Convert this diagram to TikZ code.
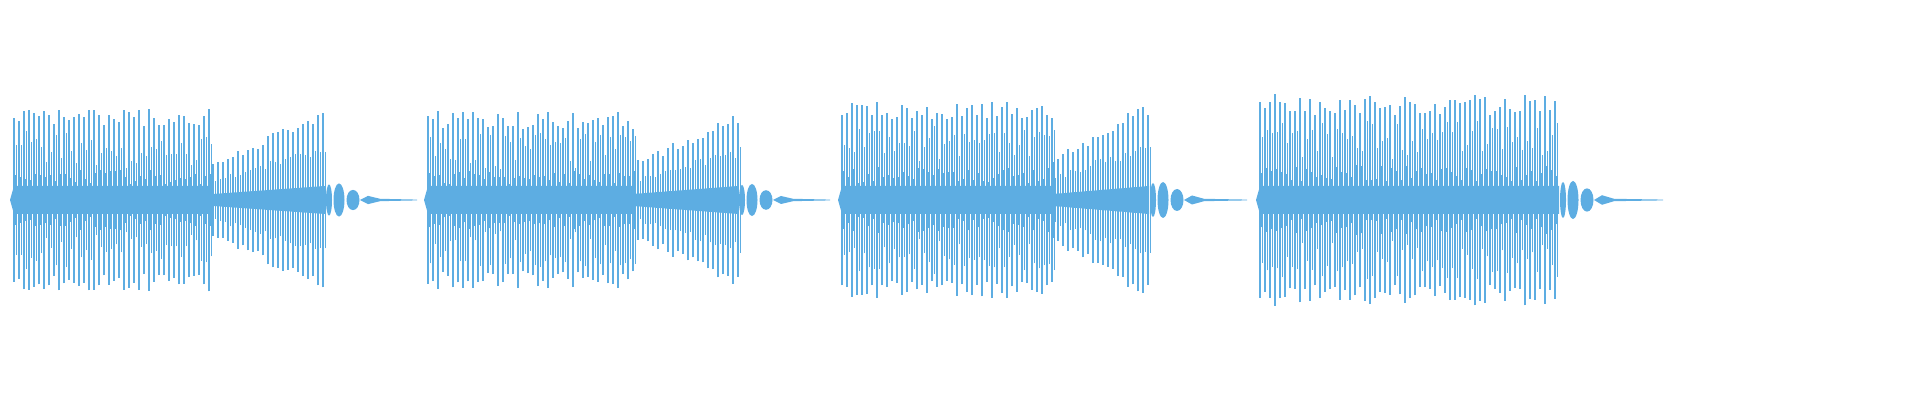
\documentclass[tikz,border=0pt]{standalone}
\definecolor{wav}{HTML}{5DADE2}
\newcommand\wseg[5]{%
 \fill[wav] (#1,0) -- (#1+4,-14) -- (#2,-14) -- (#2,14) -- (#1+4,14) -- cycle;
 \pgfmathtruncatemacro\nA{(#2-#1-4)/5}
 \foreach \i in {0,...,\nA}{
  \pgfmathsetmacro\xx{#1+4+5*\i}
  \pgfmathsetmacro\aa{#5*(0.9+0.1*rand)}
  \pgfmathsetmacro\bb{#5*(0.55+0.2*rand)}
  \pgfmathsetmacro\cc{#5*(0.25+0.08*rand)}
  \draw[wavl] (\xx,-\aa) -- (\xx,\aa);
  \draw[wavl] (\xx+2.5,-\bb) -- (\xx+2.5,\bb);
  \draw[wavl] (\xx+1.2,-\cc) -- (\xx+1.2,\cc);
 }
 \pgfmathtruncatemacro\nB{(#3-#2)/5}
 \ifnum\nB>0
 \fill[wav] (#2,-6) -- (#3,-14) -- (#3,14) -- (#2,6) -- cycle;
 \foreach \i in {0,...,\nB}{
  \pgfmathsetmacro\xx{#2+5*\i}
  \pgfmathsetmacro\ff{\i/\nB}
  \pgfmathsetmacro\aa{#5*(0.42+0.58*\ff)*(0.92+0.08*rand)}
  \pgfmathsetmacro\bb{#5*(0.25+0.35*\ff)*(0.9+0.1*rand)}
  \draw[wavl] (\xx,-\aa) -- (\xx,\aa);
  \draw[wavl] (\xx+2.5,-\bb) -- (\xx+2.5,\bb);
 }
 \fi
 \fill[wav] (#3+4,0) ellipse [x radius=3, y radius=0.17*#5];
 \fill[wav] (#3+14,0) ellipse [x radius=5.5, y radius=0.18*#5];
 \fill[wav] (#3+28,0) ellipse [x radius=6.5, y radius=0.11*#5];
 \fill[wav] (#3+35,0) -- (#3+43,-0.045*#5) -- (#3+55,-1.2) -- (#3+55,1.2) -- (#3+43,0.045*#5) -- cycle;
 \fill[wav] (#3+55,-1.2) -- (#4,-0.4) -- (#4,0.4) -- (#3+55,1.2) -- cycle;
}
\begin{document}
\begin{tikzpicture}[x=0.5pt,y=0.5pt,wavl/.style={draw=wav,line width=0.55pt}]
\pgfmathsetseed{7}
\useasboundingbox (0,-200) rectangle (1920,200);
\wseg{10}{213}{325}{417}{92}
\wseg{424}{633}{738}{830}{89}
\wseg{838}{1053}{1149}{1247}{100}
\wseg{1256}{1559}{1559}{1663}{106}
\end{tikzpicture}
\end{document}
